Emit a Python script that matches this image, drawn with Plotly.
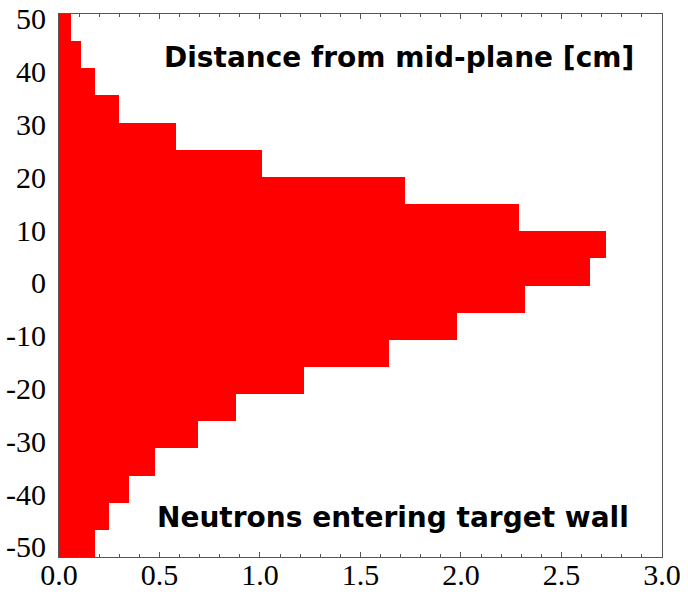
import plotly.graph_objects as go

# Bin centres (distance from mid-plane, cm) and bar values
bin_centers = [48.33, 43.19, 38.05, 32.91, 27.77, 22.63, 17.49, 12.35, 7.21, 2.07,
               -3.07, -8.21, -13.35, -18.49, -23.63, -28.77, -33.91, -39.05, -44.19, -49.33]
values = [0.06, 0.11, 0.18, 0.30, 0.58, 1.01, 1.72, 2.29, 2.72, 2.64,
          2.32, 1.98, 1.64, 1.22, 0.88, 0.69, 0.48, 0.35, 0.25, 0.18]
bin_width = 5.14

y_ticks = [50, 40, 30, 20, 10, 0, -10, -20, -30, -40, -50]
y_tick_text = ["50", "40", "30", "20", "10", "0", "-10", "-20", "-30", "-40", "-50"]
x_ticks = [0.0, 0.5, 1.0, 1.5, 2.0, 2.5, 3.0]
x_tick_text = ["0.0", "0.5", "1.0", "1.5", "2.0", "2.5", "3.0"]

top_label = "Distance from mid-plane [cm]"
bottom_label = "Neutrons entering target wall"

fig = go.Figure()
fig.add_trace(go.Bar(
    y=bin_centers, x=values, orientation="h", width=bin_width,
    marker=dict(color="#FF0000", line=dict(width=0)),
    hoverinfo="skip",
))

axis_color = "#555555"
tick_font = dict(family="Liberation Serif, Times New Roman, serif", size=30, color="black")

fig.update_layout(
    width=688, height=594,
    margin=dict(l=59, r=26, t=14, b=37),
    paper_bgcolor="white", plot_bgcolor="white",
    showlegend=False, bargap=0,
    xaxis=dict(
        range=[0, 3.0001], tickvals=x_ticks, ticktext=x_tick_text,
        ticks="inside", ticklen=5, tickcolor=axis_color, tickwidth=1,
        minor=dict(dtick=0.1, tick0=0, ticks="inside", ticklen=3, tickcolor=axis_color, showgrid=False),
        showline=True, linecolor=axis_color, linewidth=1, mirror="ticks",
        showgrid=False, zeroline=False, tickfont=tick_font, automargin=False,
        ticklabelstandoff=-9, ticklabeloverflow="allow",
    ),
    yaxis=dict(
        range=[-51.9, 50.9], tickvals=y_ticks, ticktext=y_tick_text,
        ticks="", showline=True, linecolor=axis_color, linewidth=1, mirror=True,
        showgrid=False, zeroline=False, tickfont=tick_font, ticklabelstandoff=6,
        automargin=False, ticklabeloverflow="allow",
    ),
    annotations=[
        dict(text=top_label, xref="paper", yref="paper", x=0.957, y=0.920,
             xanchor="right", yanchor="middle", showarrow=False,
             font=dict(family="DejaVu Sans", size=28, color="black", weight="bold")),
        dict(text=bottom_label, xref="paper", yref="paper", x=0.949, y=0.072,
             xanchor="right", yanchor="middle", showarrow=False,
             font=dict(family="DejaVu Sans", size=28, color="black", weight="bold")),
    ],
)

fig.write_html("out.html")
